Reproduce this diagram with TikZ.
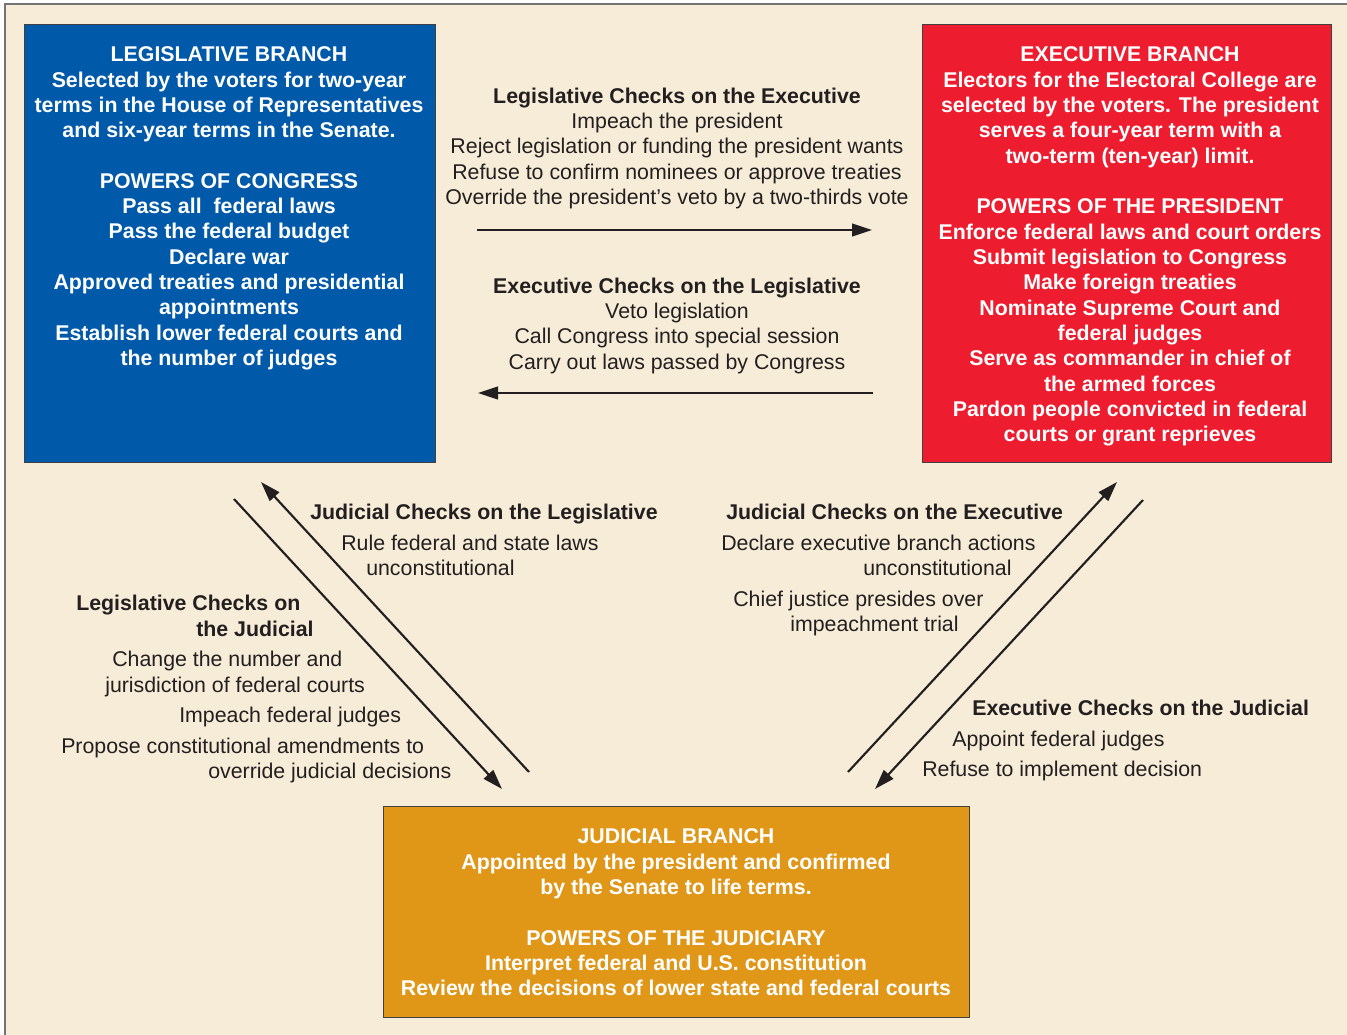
\documentclass[tikz,border=0pt]{standalone}
\usepackage{fontspec}
\setmainfont{Liberation Sans}
\usetikzlibrary{arrows.meta}
\usepackage{xcolor}
\definecolor{cream}{RGB}{247,236,215}
\definecolor{legblue}{RGB}{0,89,169}
\definecolor{exred}{RGB}{237,28,46}
\definecolor{judgold}{RGB}{224,151,24}
\definecolor{ink}{RGB}{35,31,32}

\begin{document}
\begin{tikzpicture}[x=0.75pt,y=-0.75pt,
    branch/.style={draw=black!75,line width=0.8pt,inner sep=0pt,anchor=north west},
    boxtext/.style={text=white,font=\bfseries\fontsize{16}{19}\selectfont,align=center,inner sep=0pt,anchor=north},
    checks/.style={text=ink,font=\fontsize{16}{19}\selectfont,align=center,inner sep=0pt},
    line/.style={checks,anchor=base west},
    checkarrow/.style={ink,line width=1.6pt,-{Triangle[length=15pt,width=9.5pt]}}]
    \useasboundingbox (0,0) rectangle (1347,1035);
    \def\rh{19pt}
    % paper
    \fill[cream] (5,4) rectangle (1347,1035);
    \draw[black!55,line width=1pt] (5,1035) -- (5,4) -- (1347,4);

    % the three branches
    \node[branch,fill=legblue,minimum width=308.25pt,minimum height=328.5pt] (leg) at (24,24) {};
    \node[branch,fill=exred,minimum width=306.75pt,minimum height=328.5pt] (exe) at (922,24) {};
    \node[branch,fill=judgold,minimum width=439.5pt,minimum height=158.25pt] (jud) at (383,806) {};

    \node[boxtext] (legtext) at (229,46.5) {LEGISLATIVE BRANCH\\
        Selected by the voters for two-year\\
        terms in the House of Representatives\\
        and six-year terms in the Senate.\\[\rh]
        POWERS OF CONGRESS\\
        Pass all~ federal laws\\
        Pass the federal budget\\
        Declare war\\
        Approved treaties and presidential\\
        appointments\\
        Establish lower federal courts and\\
        the number of judges};
    \node[boxtext] (exetext) at (1130,46.5) {EXECUTIVE BRANCH\\
        Electors for the Electoral College are\\
        selected by the voters. The president\\
        serves a four-year term with a\\
        two-term (ten-year) limit.\\[\rh]
        POWERS OF THE PRESIDENT\\
        Enforce federal laws and court orders\\
        Submit legislation to Congress\\
        Make foreign treaties\\
        Nominate Supreme Court and\\
        federal judges\\
        Serve as commander in chief of\\
        the armed forces\\
        Pardon people convicted in federal\\
        courts or grant reprieves};
    \node[boxtext] (judtext) at (676,828.5) {JUDICIAL BRANCH\\
        Appointed by the president and confirmed\\
        by the Senate to life terms.\\[\rh]
        POWERS OF THE JUDICIARY\\
        Interpret federal and U.S. constitution\\
        Review the decisions of lower state and federal courts};

    % legislative <-> executive
    \node[checks,anchor=north] (lonx) at (677,87.5) {\textbf{Legislative Checks on the Executive}\\
        Impeach the president\\
        Reject legislation or funding the president wants\\
        Refuse to confirm nominees or approve treaties\\
        Override the president's veto by a two-thirds vote};
    \node[checks,anchor=north] (xonl) at (677,277.5) {\textbf{Executive Checks on the Legislative}\\
        Veto legislation\\
        Call Congress into special session\\
        Carry out laws passed by Congress};
    \coordinate (lx1) at (477,230);
    \coordinate (lx2) at (872,230);
    \coordinate (xl1) at (873,393);
    \coordinate (xl2) at (478,393);
    \draw[checkarrow] (lx1) -- (lx2);
    \draw[checkarrow] (xl1) -- (xl2);

    % legislative <-> judicial
    \coordinate (lj1) at (234,499);
    \coordinate (lj2) at (502,789);
    \coordinate (jl1) at (529,772);
    \coordinate (jl2) at (261,482);
    \draw[checkarrow] (lj1) -- (lj2);
    \draw[checkarrow] (jl1) -- (jl2);
    \node[line,font=\bfseries\fontsize{16}{19}\selectfont] (jonl) at (310,519) {Judicial Checks on the Legislative};
    \node[line] (jonl1) at (341,550) {Rule federal and state laws};
    \node[line] (jonl2) at (366,575) {unconstitutional};
    \node[line,font=\bfseries\fontsize{16}{19}\selectfont] (lonj) at (76,610) {Legislative Checks on};
    \node[line,font=\bfseries\fontsize{16}{19}\selectfont] (lonjb) at (196,636) {the Judicial};
    \node[line] (lonj1) at (112,666) {Change the number and};
    \node[line] (lonj2) at (105,692) {jurisdiction of federal courts};
    \node[line] (lonj3) at (179,722) {Impeach federal judges};
    \node[line] (lonj4) at (61,753) {Propose constitutional amendments to};
    \node[line] (lonj5) at (208,778) {override judicial decisions};

    % executive <-> judicial
    \coordinate (jx1) at (848,772);
    \coordinate (jx2) at (1117,482);
    \coordinate (xj1) at (1143,500);
    \coordinate (xj2) at (875,789);
    \draw[checkarrow] (jx1) -- (jx2);
    \draw[checkarrow] (xj1) -- (xj2);
    \node[line,font=\bfseries\fontsize{16}{19}\selectfont] (jonx) at (726,519) {Judicial Checks on the Executive};
    \node[line] (jonx1) at (721,550) {Declare executive branch actions};
    \node[line] (jonx2) at (863,575) {unconstitutional};
    \node[line] (jonx3) at (733,606) {Chief justice presides over};
    \node[line] (jonx4) at (790,631) {impeachment trial};
    \node[line,font=\bfseries\fontsize{16}{19}\selectfont] (xonj) at (972,715) {Executive Checks on the Judicial};
    \node[line] (xonj1) at (952,746) {Appoint federal judges};
    \node[line] (xonj2) at (922,776) {Refuse to implement decision};
\end{tikzpicture}
\end{document}
